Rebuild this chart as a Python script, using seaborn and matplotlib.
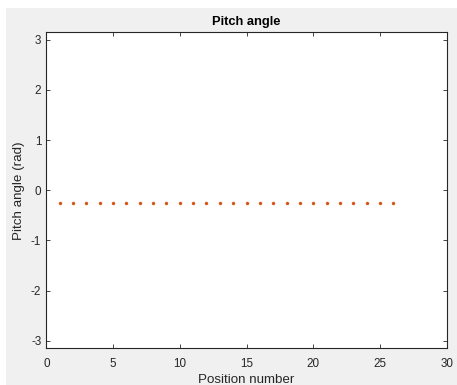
import matplotlib
matplotlib.use("Agg")
import matplotlib.pyplot as plt
from matplotlib.patches import Rectangle
import seaborn as sns

# Measured pitch angle at each position
positions = [1, 2, 3, 4, 5, 6, 7, 8, 9, 10, 11, 12, 13,
             14, 15, 16, 17, 18, 19, 20, 21, 22, 23, 24, 25, 26]
pitch_rad = [-0.26, -0.26, -0.26, -0.26, -0.26, -0.26, -0.26, -0.26, -0.26,
             -0.26, -0.26, -0.26, -0.26, -0.26, -0.26, -0.26, -0.26, -0.26,
             -0.26, -0.26, -0.26, -0.26, -0.26, -0.26, -0.26, -0.26]
x_ticks = [0, 5, 10, 15, 20, 25, 30]
y_ticks = [-3, -2, -1, 0, 1, 2, 3]

sns.set_theme(style="white")
plt.rcParams["font.family"] = ["Liberation Sans", "DejaVu Sans"]

W, H, DPI = 457, 385, 100
ink = "#262626"

fig = plt.figure(figsize=(W / DPI, H / DPI), dpi=DPI, facecolor="#f0f0f0")
# thin white strips along the top and left edges of the window
fig.add_artist(Rectangle((0, 1 - 8 / H), 1, 8 / H, transform=fig.transFigure,
                         facecolor="white", edgecolor="none", zorder=-1))
fig.add_artist(Rectangle((0, 0), 6 / W, 1, transform=fig.transFigure,
                         facecolor="white", edgecolor="none", zorder=-1))

ax = fig.add_axes([46.3 / W, 36.7 / H, 400.4 / W, 316 / H])
ax.set_facecolor("white")

sns.scatterplot(x=positions, y=pitch_rad, ax=ax, color="#D95319",
                s=6, linewidth=0, marker="o")

ax.set_xlim(0, 30)
ax.set_ylim(-3.15, 3.15)
ax.set_xticks(x_ticks)
ax.set_yticks(y_ticks)
ax.set_xticklabels([str(v) for v in x_ticks])
ax.set_yticklabels([str(v) for v in y_ticks])

for side in ["top", "bottom", "left", "right"]:
    ax.spines[side].set_visible(True)
    ax.spines[side].set_color(ink)
    ax.spines[side].set_linewidth(0.8)

ax.tick_params(axis="both", which="major", direction="in", length=2.8,
               width=0.6, color=ink, labelcolor=ink, labelsize=8.4,
               top=True, right=True, bottom=True, left=True,
               labeltop=False, labelright=False)
ax.tick_params(axis="x", pad=7.2)
ax.tick_params(axis="y", pad=3.6)

ax.set_title("Pitch angle", fontsize=9.3, fontweight="bold", color="black",
             y=1.0231, va="baseline", pad=0)
ax.set_xlabel("Position number", fontsize=9.6, color=ink, va="baseline")
ax.xaxis.set_label_coords(0.5, -0.1108)
ax.set_ylabel("Pitch angle (rad)", fontsize=9.6, color=ink, va="center")
ax.yaxis.set_label_coords(-0.0690, 0.5)

fig.savefig("out.png", dpi=DPI, facecolor=fig.get_facecolor())
